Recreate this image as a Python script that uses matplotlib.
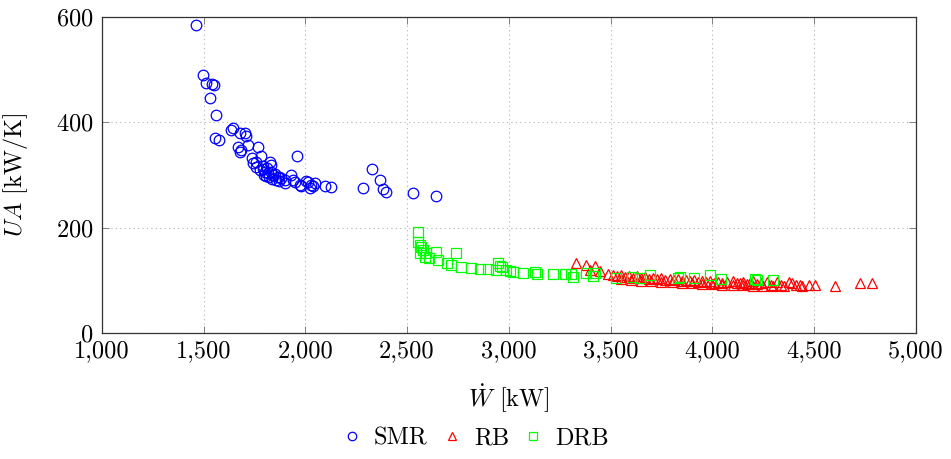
import matplotlib
matplotlib.use("Agg")
import matplotlib.pyplot as plt
from matplotlib.ticker import FuncFormatter

plt.rcParams["font.family"] = "serif"
plt.rcParams["font.serif"] = ["cmr10"]
plt.rcParams["mathtext.fontset"] = "cm"
plt.rcParams["axes.formatter.use_mathtext"] = True
plt.rcParams["font.size"] = 17.5

# SMR cycle: power [kW] vs UA [kW/K]
smr_w = [1462, 1496, 1513, 1544, 1552, 1530, 1563, 1558, 1575, 1634, 1645, 1678,
         1702, 1707, 1670, 1678, 1682, 1719, 1768, 1957, 1781, 1736, 1744, 1826,
         1834, 1760, 1776, 1790, 1801, 1817, 1830, 1842, 1850, 1866, 1872, 1883,
         1899, 1898, 1932, 1940, 1948, 1973, 1980, 2006, 2014, 2030, 2022, 2047,
         2040, 2096, 2125, 2285, 2326, 2367, 2383, 2395, 2530, 2640,
         1795, 1808, 1822, 1838, 1855, 1870, 1760, 1790, 1810]
smr_ua = [585, 490, 475, 473, 470, 447, 414, 370, 366, 386, 389, 380,
          380, 374, 354, 344, 347, 357, 354, 337, 336, 332, 322, 325,
          319, 316, 309, 311, 306, 303, 305, 300, 302, 297, 296, 294,
          284, 290, 300, 290, 287, 281, 280, 289, 287, 281, 275, 284,
          279, 279, 277, 275, 311, 290, 274, 268, 265, 261,
          300, 298, 296, 293, 291, 288, 325, 318, 313]

# RB cycle
rb_w = [3332, 3381, 3423, 3400, 3450, 3488, 3510, 3530, 3550, 3570, 3590, 3610,
        3630, 3650, 3670, 3690, 3710, 3730, 3750, 3770, 3790, 3810, 3830, 3850,
        3870, 3890, 3910, 3930, 3949, 3970, 3990, 4010, 4030, 4050, 4070, 4104,
        4120, 4135, 4153, 4170, 4185, 4202, 4220, 4240, 4268, 4290, 4317, 4340,
        4375, 4391, 4410, 4432, 4440, 4473, 4506, 4604, 4727, 4785,
        3550, 3600, 3650, 3700, 3750, 3800, 3850, 3900, 3950, 4000, 4050, 4100,
        4150, 4200, 4250, 4300, 4350]
rb_ua = [133, 129, 127, 120, 118, 112, 110, 108, 111, 107, 109, 105,
         108, 104, 106, 103, 105, 102, 104, 101, 103, 100, 102, 99,
         101, 98, 100, 97, 99, 96, 98, 95, 97, 95, 96, 98,
         94, 95, 97, 93, 95, 99, 93, 94, 96, 92, 96, 92,
         96, 94, 91, 91, 90, 91, 91, 90, 94, 94,
         103, 101, 99, 98, 97, 96, 95, 94, 93, 93, 92, 91,
         91, 90, 90, 89, 89]

# DRB cycle
drb_w = [2554, 2556, 2563, 2571, 2579, 2566, 2595, 2587, 2610, 2644, 2652, 2742,
         2694, 2718, 2767, 2816, 2857, 2898, 2947, 2939, 2955, 2965, 2988, 3006,
         3021, 3070, 3128, 3140, 3219, 3275, 3308, 3316, 3381, 3414, 3423, 3529,
         3603, 3644, 3696, 3832, 3840, 3909, 3991, 4045, 4209, 4220, 4296]
drb_ua = [192, 172, 167, 164, 158, 151, 151, 145, 143, 154, 139, 151,
          132, 129, 126, 123, 121, 121, 132, 120, 127, 125, 120, 118,
          116, 114, 116, 112, 112, 112, 112, 107, 113, 108, 114, 104,
          107, 104, 110, 104, 107, 104, 110, 102, 102, 101, 101]

x_ticks = [1000, 1500, 2000, 2500, 3000, 3500, 4000, 4500, 5000]
y_ticks = [0, 200, 400, 600]

fig = plt.figure(figsize=(9.51, 4.59), dpi=100)
ax = fig.add_axes([0.107, 0.2745, 0.856, 0.6885])

ax.plot(smr_w, smr_ua, linestyle="none", marker="o", markersize=7.6,
        markerfacecolor="none", markeredgecolor="#0000ff", markeredgewidth=0.9,
        label="SMR", zorder=3)
ax.plot(rb_w, rb_ua, linestyle="none", marker="^", markersize=7.2,
        markerfacecolor="none", markeredgecolor="#ff0000", markeredgewidth=0.9,
        label="RB", zorder=3)
ax.plot(drb_w, drb_ua, linestyle="none", marker="s", markersize=7.4,
        markerfacecolor="none", markeredgecolor="#00ff00", markeredgewidth=0.9,
        label="DRB", zorder=3)

ax.set_xlim(1000, 5000)
ax.set_ylim(0, 600)
ax.set_xticks(x_ticks)
ax.set_yticks(y_ticks)
ax.xaxis.set_major_formatter(FuncFormatter(lambda v, p: f"{int(v):,}"))
ax.grid(True, linestyle=(0, (1, 3)), color="#b0b0b0", linewidth=0.8)
ax.set_axisbelow(True)
ax.tick_params(direction="in", length=5, width=0.7, color="#808080",
               top=True, right=True)
ax.tick_params(axis="x", pad=5)
ax.tick_params(axis="y", pad=6)
for s in ax.spines.values():
    s.set_linewidth(0.9)
    s.set_color("#333333")

ax.set_xlabel(r"$\dot{W}$ [kW]")
ax.set_ylabel(r"$UA$ [kW/K]")
ax.xaxis.set_label_coords(0.5, -0.155)
ax.yaxis.set_label_coords(-0.088, 0.5)

leg = fig.legend(loc="center", bbox_to_anchor=(0.5, 0.045), ncol=3, frameon=False,
                 handlelength=0.8, handletextpad=0.5, columnspacing=0.6,
                 markerscale=0.8, borderpad=0.1)

fig.savefig("out.png", dpi=100)
